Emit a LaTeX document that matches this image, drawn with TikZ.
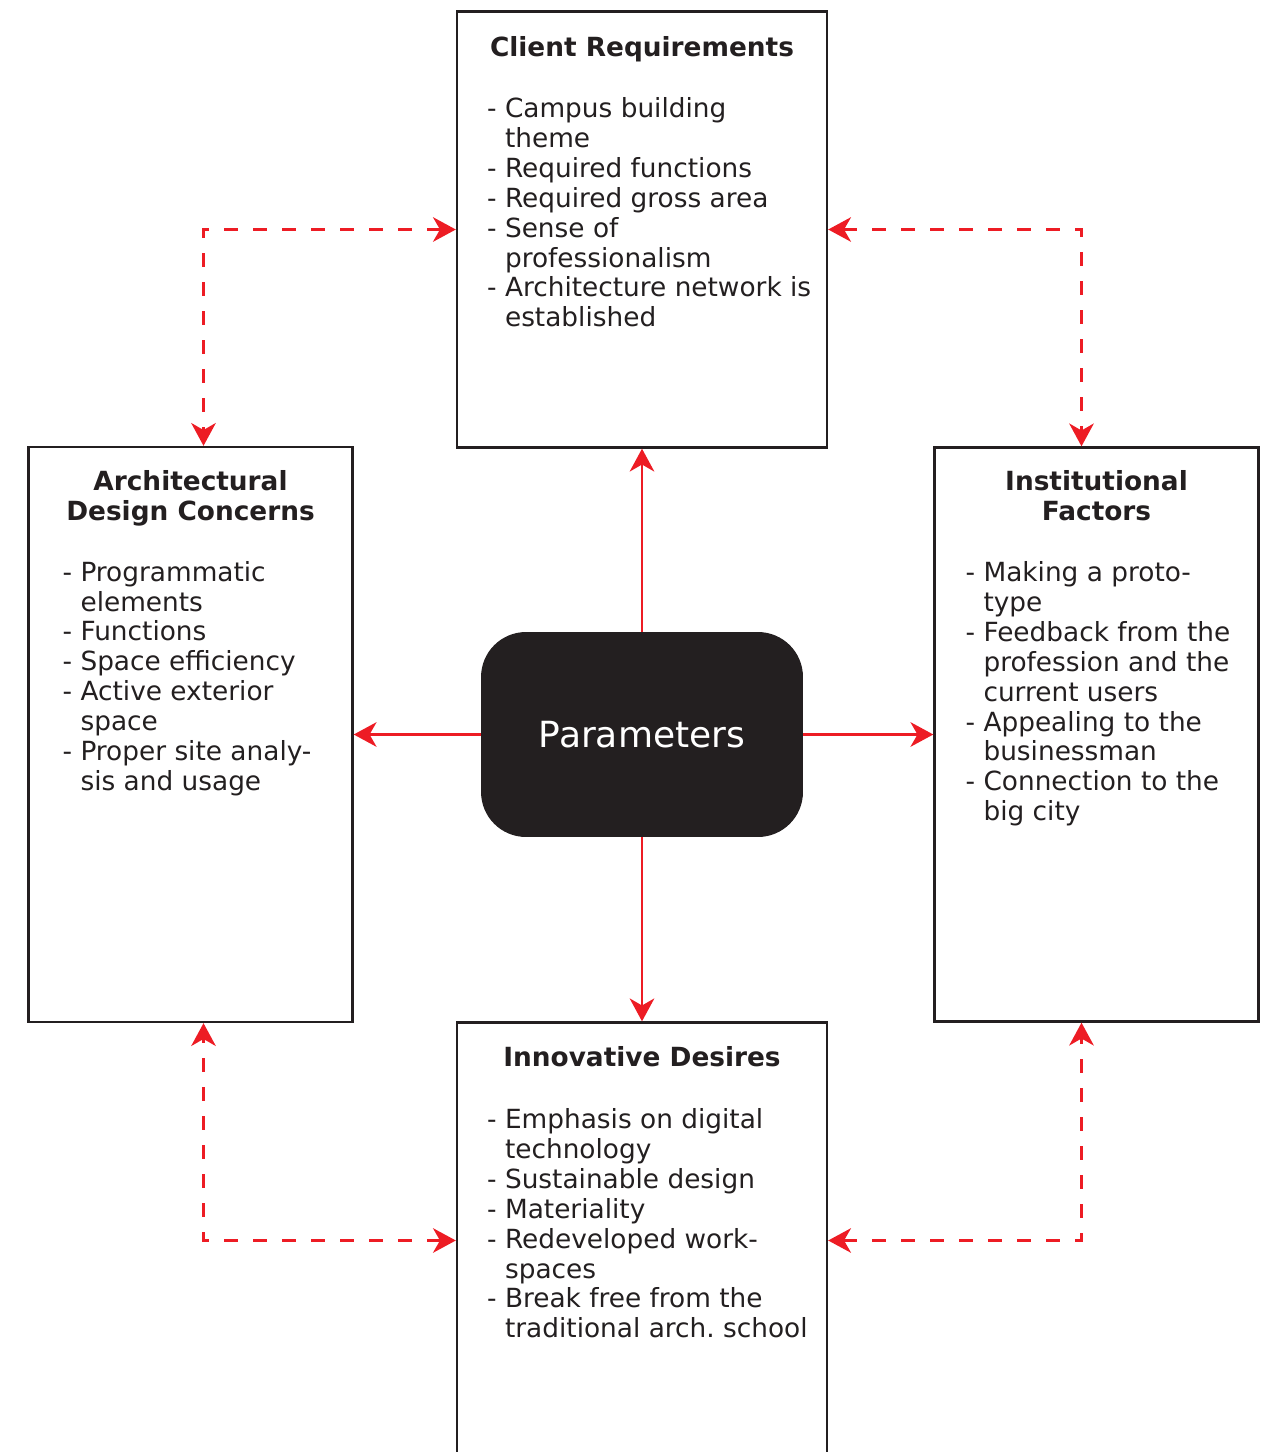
\documentclass[tikz,border=0pt]{standalone}
\usepackage{fontspec}
\setmainfont{DejaVu Sans}
\usetikzlibrary{positioning,arrows.meta}
\definecolor{ink}{HTML}{231F20}
\definecolor{lred}{HTML}{ED1C24}
\newcommand{\contd}{\hphantom{- }}
\frenchspacing

\begin{document}
\begin{tikzpicture}[x=0.02cm,y=-0.02cm]
	\tikzstyle{box} = [rectangle,draw = ink,line width=1.4pt,inner sep=0]
	\tikzstyle{head} = [anchor=north,inner sep=0,align=center,text=ink,font=\fontsize{15}{17}\selectfont\bfseries]
	\tikzstyle{list} = [anchor=north west,inner sep=0,align=left,text=ink,font=\fontsize{15}{17}\selectfont]
\tikzstyle{line} = [lred,line width=1.4pt,>={Stealth[length=13pt,width=14pt,inset=4pt]}]
\tikzstyle{dline} = [line,dash pattern=on 8pt off 8.5pt]
	\useasboundingbox (0,0) rectangle (1274,1452);
	\clip (0,0) rectangle (1274,1452);
	\node(param)[rectangle,fill=ink,rounded corners=0.9cm,minimum width=6.44cm,minimum height=4.1cm,text=white,font=\fontsize{20.5}{24}\selectfont] at (642,734.5) {Parameters};
	\node(client)[box,minimum width=7.4cm,minimum height=8.72cm,above=3.66cm of param] {};
	\node(arch)[box,minimum width=6.48cm,minimum height=11.5cm,left=2.54cm of param] {};
	\node(inst)[box,minimum width=6.48cm,minimum height=11.48cm,right=2.6cm of param] {};
	\node(innov)[box,minimum width=7.4cm,minimum height=8.72cm,below=3.68cm of param] {};
	\node(clienthead)[head] at ([yshift=-0.52cm]client.north) {Client Requirements};
	\node(archhead)[head] at ([yshift=-0.48cm]arch.north) {Architectural\\Design Concerns};
	\node(insthead)[head] at ([yshift=-0.48cm]inst.north) {Institutional\\Factors};
	\node(innovhead)[head] at ([yshift=-0.5cm]innov.north) {Innovative Desires};
	\node(clientlist)[list] at ([xshift=0.62cm,yshift=-1.74cm]client.north west) {- Campus building\\ \contd theme\\ - Required functions\\ - Required gross area\\ - Sense of\\ \contd professionalism\\ - Architecture network is\\ \contd established};
	\node(archlist)[list] at ([xshift=0.7cm,yshift=-2.3cm]arch.north west) {- Programmatic\\ \contd elements\\ - Functions\\ - Space efficiency\\ - Active exterior\\ \contd space\\ - Proper site analy-\\ \contd sis and usage};
	\node(instlist)[list] at ([xshift=0.64cm,yshift=-2.3cm]inst.north west) {- Making a proto-\\ \contd type\\ - Feedback from the\\ \contd profession and the\\ \contd current users\\ - Appealing to the\\ \contd businessman\\ - Connection to the\\ \contd big city};
	\node(innovlist)[list] at ([xshift=0.62cm,yshift=-1.74cm]innov.north west) {- Emphasis on digital\\ \contd technology\\ - Sustainable design\\ - Materiality\\ - Redeveloped work-\\ \contd spaces\\ - Break free from the\\ \contd traditional arch.\ school};
	\draw[line,->](param) -- (client);
	\draw[line,->](param) -- (arch);
	\draw[line,->](param) -- (inst);
	\draw[line,->](param) -- (innov);
	\draw[dline,<->](client.west) -| ([xshift=0.26cm]arch.north);
	\draw[dline,<->](client.east) -| ([xshift=-0.3cm]inst.north);
	\draw[dline,<->](innov.west) -| ([xshift=0.26cm]arch.south);
	\draw[dline,<->](innov.east) -| ([xshift=-0.3cm]inst.south);
\end{tikzpicture}
\end{document}
